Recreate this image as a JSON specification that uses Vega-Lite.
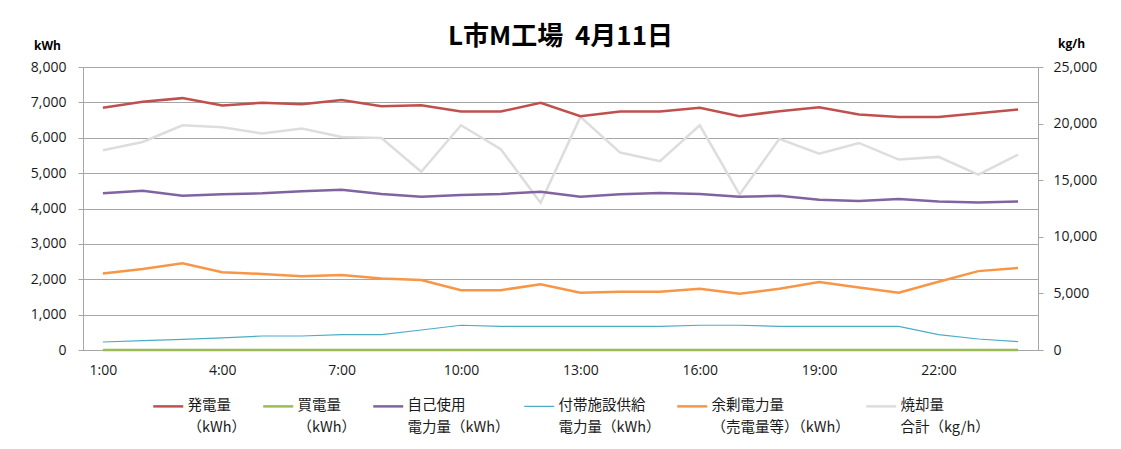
{
  "$schema": "https://vega.github.io/schema/vega-lite/v6.json",
  "autosize": "none",
  "width": 955,
  "height": 283,
  "padding": {"left": 83, "top": 67, "right": 83, "bottom": 99},
  "background": "white",
  "title": {
    "text": "L市M工場\u00a0\u00a04月11日",
    "font": "Noto Sans CJK JP",
    "fontSize": 26,
    "fontWeight": "bold",
    "color": "#000000",
    "anchor": "middle",
    "frame": "group",
    "offset": -13
  },
  "data": {
    "values": [
      {"h": 1, "gen": 6850, "buy": 0, "self": 4430, "aux": 226, "surplus": 2160, "burn": 17650},
      {"h": 2, "gen": 7020, "buy": 0, "self": 4500, "aux": 264, "surplus": 2290, "burn": 18380},
      {"h": 3, "gen": 7120, "buy": 0, "self": 4360, "aux": 300, "surplus": 2450, "burn": 19850},
      {"h": 4, "gen": 6910, "buy": 0, "self": 4400, "aux": 340, "surplus": 2200, "burn": 19680},
      {"h": 5, "gen": 6990, "buy": 0, "self": 4430, "aux": 396, "surplus": 2150, "burn": 19120},
      {"h": 6, "gen": 6950, "buy": 0, "self": 4490, "aux": 396, "surplus": 2085, "burn": 19560},
      {"h": 7, "gen": 7070, "buy": 0, "self": 4530, "aux": 434, "surplus": 2120, "burn": 18820},
      {"h": 8, "gen": 6890, "buy": 0, "self": 4410, "aux": 434, "surplus": 2020, "burn": 18730},
      {"h": 9, "gen": 6920, "buy": 0, "self": 4330, "aux": 566, "surplus": 1980, "burn": 15750},
      {"h": 10, "gen": 6740, "buy": 0, "self": 4380, "aux": 700, "surplus": 1690, "burn": 19850},
      {"h": 11, "gen": 6740, "buy": 0, "self": 4410, "aux": 670, "surplus": 1690, "burn": 17740},
      {"h": 12, "gen": 6990, "buy": 0, "self": 4470, "aux": 670, "surplus": 1860, "burn": 13000},
      {"h": 13, "gen": 6610, "buy": 0, "self": 4330, "aux": 670, "surplus": 1620, "burn": 20590},
      {"h": 14, "gen": 6740, "buy": 0, "self": 4400, "aux": 670, "surplus": 1650, "burn": 17440},
      {"h": 15, "gen": 6740, "buy": 0, "self": 4440, "aux": 670, "surplus": 1650, "burn": 16680},
      {"h": 16, "gen": 6850, "buy": 0, "self": 4410, "aux": 700, "surplus": 1730, "burn": 19850},
      {"h": 17, "gen": 6610, "buy": 0, "self": 4330, "aux": 700, "surplus": 1590, "burn": 13740},
      {"h": 18, "gen": 6750, "buy": 0, "self": 4360, "aux": 670, "surplus": 1730, "burn": 18650},
      {"h": 19, "gen": 6860, "buy": 0, "self": 4250, "aux": 670, "surplus": 1920, "burn": 17350},
      {"h": 20, "gen": 6660, "buy": 0, "self": 4210, "aux": 670, "surplus": 1770, "burn": 18290},
      {"h": 21, "gen": 6590, "buy": 0, "self": 4270, "aux": 670, "surplus": 1620, "burn": 16820},
      {"h": 22, "gen": 6590, "buy": 0, "self": 4200, "aux": 434, "surplus": 1930, "burn": 17060},
      {"h": 23, "gen": 6690, "buy": 0, "self": 4170, "aux": 311, "surplus": 2230, "burn": 15500},
      {"h": 24, "gen": 6800, "buy": 0, "self": 4200, "aux": 236, "surplus": 2320, "burn": 17260}
    ]
  },
  "transform": [
    {"fold": ["gen", "buy", "self", "aux", "surplus", "burn"], "as": ["series", "value"]}
  ],
  "encoding": {
    "x": {
      "field": "h",
      "type": "quantitative",
      "scale": {"domain": [0.5, 24.5], "nice": false, "zero": false},
      "axis": {
        "orient": "bottom",
        "title": null,
        "values": [1, 4, 7, 10, 13, 16, 19, 22],
        "labelExpr": "datum.value + ':00'",
        "ticks": false,
        "tickSize": 0,
        "grid": false,
        "domain": true,
        "domainColor": "#A6A6A6",
        "labelPadding": 13,
        "labelFont": "Open Sans",
        "labelFontSize": 14,
        "labelColor": "#1a1a1a"
      }
    },
    "color": {
      "field": "series",
      "type": "nominal",
      "scale": {
        "domain": ["gen", "buy", "self", "aux", "surplus", "burn"],
        "range": ["#C0504D", "#9BBB59", "#8064A2", "#4BACC6", "#F79646", "#DDDDDD"]
      },
      "legend": {
        "title": null,
        "orient": "none",
        "legendX": 78,
        "legendY": 332,
        "direction": "horizontal",
        "columns": 6,
        "columnPadding": 11,
        "symbolType": "stroke",
        "symbolSize": 900,
        "symbolStrokeWidth": 2.5,
        "labelOffset": 12,
        "labelFont": "Noto Sans CJK JP",
        "labelFontSize": 14.5,
        "labelColor": "#1a1a1a",
        "labelLimit": 400,
        "labelExpr": "datum.label == 'gen' ? ['発電量', '（kWh）'] : datum.label == 'buy' ? ['買電量', '（kWh）'] : datum.label == 'self' ? ['自己使用', '電力量（kWh）'] : datum.label == 'aux' ? ['付帯施設供給', '電力量（kWh）'] : datum.label == 'surplus' ? ['余剰電力量', '（売電量等）（kWh）'] : ['焼却量', '合計（kg/h）']",
        "encode": {
          "labels": {"update": {"lineHeight": {"value": 22}}},
          "symbols": {"update": {"strokeWidth": {"signal": "datum.value == 'aux' ? 1.2 : 2.5"}}}
        }
      }
    }
  },
  "layer": [
    {
      "transform": [{"filter": "datum.series == 'burn'"}],
      "mark": {"type": "line", "strokeWidth": 2.5, "clip": false},
      "encoding": {
        "y": {
          "field": "value",
          "type": "quantitative",
          "scale": {"domain": [0, 25000], "nice": false},
          "axis": {
            "orient": "right",
            "values": [0, 5000, 10000, 15000, 20000, 25000],
            "format": ",.0f",
            "grid": false,
            "title": "kg/h",
            "titleAngle": 0,
            "titleAlign": "center",
            "titleBaseline": "alphabetic",
            "titleX": 33,
            "titleY": -20,
            "titleFont": "Open Sans",
            "titleFontSize": 12,
            "titleFontWeight": "bold",
            "titleColor": "#000000",
            "domainColor": "#A6A6A6",
            "tickColor": "#A6A6A6",
            "tickSize": 5,
            "labelPadding": 10,
            "labelFont": "Open Sans",
            "labelFontSize": 14,
            "labelColor": "#1a1a1a"
          }
        }
      }
    },
    {
      "layer": [
        {
          "transform": [{"filter": "datum.series != 'burn' && datum.series != 'aux'"}],
          "mark": {"type": "line", "strokeWidth": 2.5, "clip": false},
          "encoding": {
            "y": {
              "field": "value",
              "type": "quantitative",
              "scale": {"domain": [0, 8000], "nice": false},
              "axis": {
                "orient": "left",
                "values": [0, 1000, 2000, 3000, 4000, 5000, 6000, 7000, 8000],
                "format": ",.0f",
                "grid": true,
                "gridColor": "#A6A6A6",
                "gridWidth": 1,
                "title": "kWh",
                "titleAngle": 0,
                "titleAlign": "center",
                "titleBaseline": "alphabetic",
                "titleX": -36,
                "titleY": -18,
                "titleFont": "Open Sans",
                "titleFontSize": 12,
                "titleFontWeight": "bold",
                "titleColor": "#000000",
                "domainColor": "#A6A6A6",
                "tickColor": "#A6A6A6",
                "tickSize": 5,
                "labelPadding": 12,
                "labelFont": "Open Sans",
                "labelFontSize": 14,
                "labelColor": "#1a1a1a"
              }
            }
          }
        },
        {
          "transform": [{"filter": "datum.series == 'aux'"}],
          "mark": {"type": "line", "strokeWidth": 1.2, "clip": false},
          "encoding": {
            "y": {
              "field": "value",
              "type": "quantitative",
              "scale": {"domain": [0, 8000], "nice": false},
              "axis": {
                "orient": "left",
                "values": [0, 1000, 2000, 3000, 4000, 5000, 6000, 7000, 8000],
                "format": ",.0f",
                "grid": true,
                "gridColor": "#A6A6A6",
                "gridWidth": 1,
                "title": "kWh",
                "titleAngle": 0,
                "titleAlign": "center",
                "titleBaseline": "alphabetic",
                "titleX": -36,
                "titleY": -18,
                "titleFont": "Open Sans",
                "titleFontSize": 12,
                "titleFontWeight": "bold",
                "titleColor": "#000000",
                "domainColor": "#A6A6A6",
                "tickColor": "#A6A6A6",
                "tickSize": 5,
                "labelPadding": 12,
                "labelFont": "Open Sans",
                "labelFontSize": 14,
                "labelColor": "#1a1a1a"
              }
            }
          }
        }
      ]
    }
  ],
  "resolve": {"scale": {"y": "independent"}},
  "config": {
    "view": {"stroke": null}
  }
}
